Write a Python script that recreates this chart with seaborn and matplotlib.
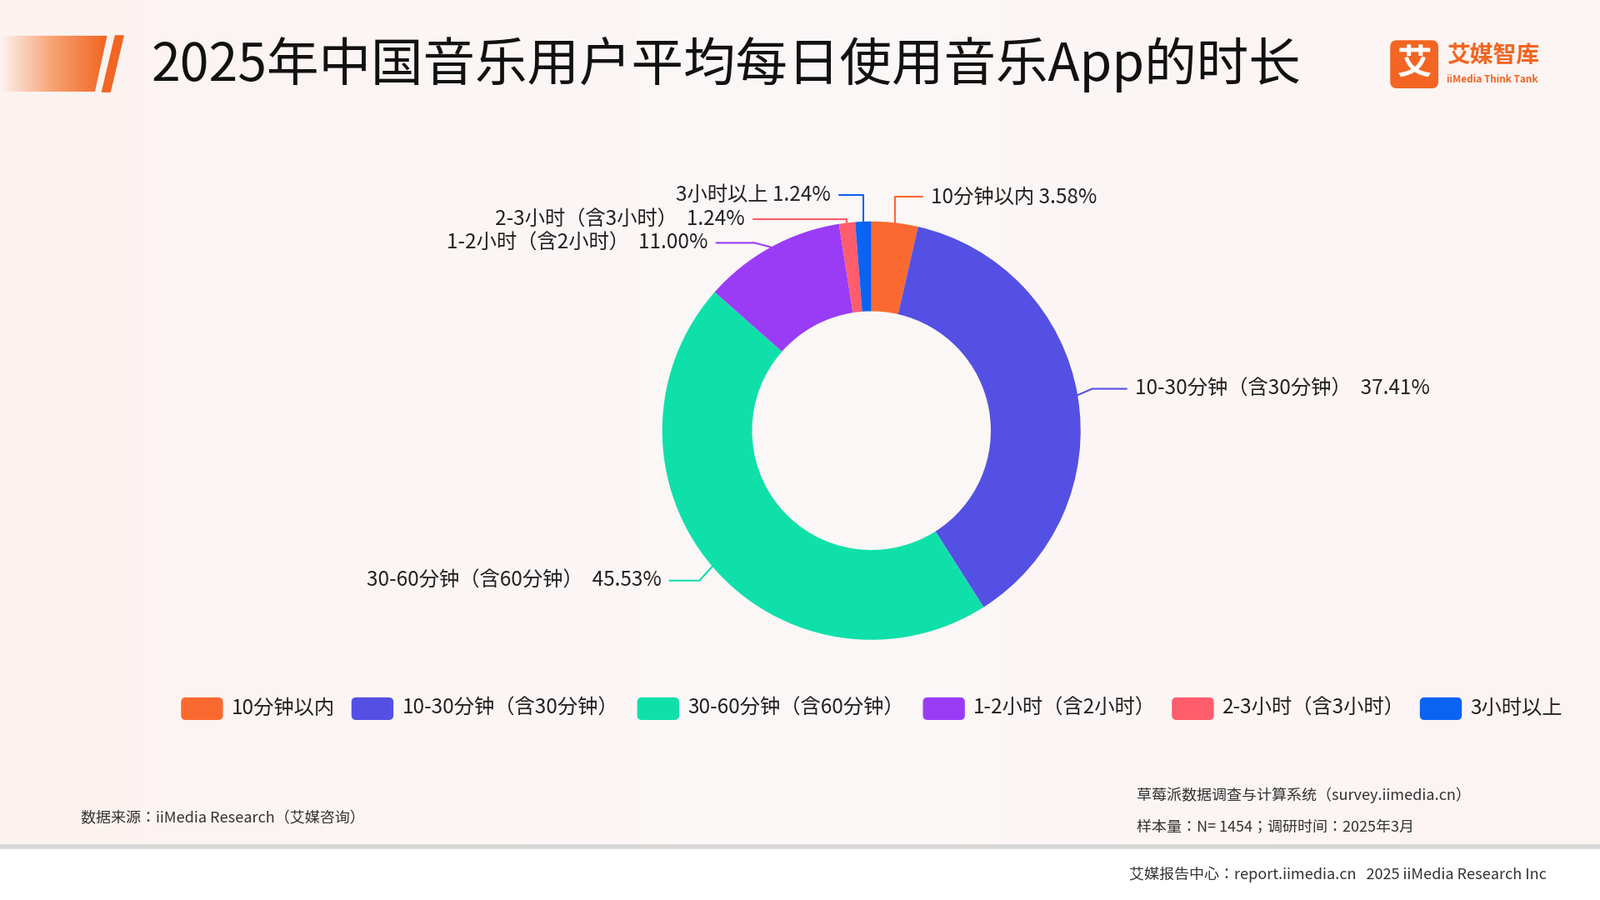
import matplotlib
matplotlib.use("Agg")
import matplotlib.pyplot as plt
import seaborn as sns
import numpy as np
from matplotlib.patches import Polygon, FancyBboxPatch, Rectangle

sns.set_theme(style="white", font="Noto Sans CJK SC")
plt.rcParams["font.family"] = "sans-serif"
plt.rcParams["font.sans-serif"] = ["Noto Sans CJK SC", "Noto Sans CJK JP", "DejaVu Sans"]

categories = ["10分钟以内", "10-30分钟（含30分钟）", "30-60分钟（含60分钟）",
              "1-2小时（含2小时）", "2-3小时（含3小时）", "3小时以上"]
values = [3.58, 37.41, 45.53, 11.00, 1.24, 1.24]
colors = ["#FA6A30", "#5450E4", "#0FE0A9", "#9A3CF6", "#FF5C6C", "#0B63F3"]
title = "2025年中国音乐用户平均每日使用音乐App的时长"

W, H = 1568, 882
fig = plt.figure(figsize=(19.2, 10.8), dpi=100)
ax = fig.add_axes([0, 0, 1, 1])
ax.set_xlim(0, W); ax.set_ylim(0, H); ax.axis("off")

grad = np.linspace(0, 1, 256).reshape(1, -1)
ax.imshow(grad, extent=[0, W, 0, H], cmap=matplotlib.colors.LinearSegmentedColormap.from_list(
    "bg", ["#FDF3F1", "#FBF8F7", "#FDF4F2"]), aspect="auto", zorder=0)
ax.add_patch(Rectangle((0, 0), W, 882 - 830, color="white", zorder=1))
ax.plot([0, W], [H - 830, H - 830], color="#D6D6D6", lw=4, zorder=2)

fade = matplotlib.colors.LinearSegmentedColormap.from_list("o", ["#FDF3F1", "#F7A070", "#F26522"])
g = ax.imshow(grad, extent=[0, 105, H - 90, H - 35], cmap=fade, aspect="auto", zorder=2)
g.set_clip_path(Polygon([(0, H - 90), (93, H - 90), (105, H - 35), (0, H - 35)], transform=ax.transData))
ax.add_patch(Polygon([(100, H - 90), (108, H - 90), (121, H - 35), (113, H - 35)], color="#F26522", zorder=3))
ax.text(148, H - 63, title, fontsize=45, va="center", ha="left", color="#111111", zorder=3)

ax.add_patch(FancyBboxPatch((1363, H - 86), 46, 46, boxstyle="round,pad=0,rounding_size=6",
                            color="#F26522", zorder=3))
ax.text(1386, H - 63, "艾", fontsize=30, color="white", ha="center", va="center", weight="bold", zorder=4)
ax.text(1418, H - 55, "艾媒智库", fontsize=20, color="#F26522", ha="left", va="center", weight="bold", zorder=4)
ax.text(1418, H - 78, "iiMedia Think Tank", fontsize=8.5, color="#F26522", ha="left", va="center", weight="bold", zorder=4)

cx, cy, R = 854, H - 422, 205
wedges, _ = ax.pie(values, colors=colors, startangle=90, counterclock=False,
                   center=(cx, cy), radius=R, wedgeprops=dict(width=88, edgecolor="none"),
                   frame=True)
ax.set_xlim(0, W); ax.set_ylim(0, H); ax.set_aspect("equal"); ax.axis("off")

label_pos = [(912, 193, "left"), (1112, 381, "left"), (648, 569, "right"),
             (694, 238, "right"), (730, 215, "right"), (814, 191, "right")]
for w, cat, v, col, (lx, ly, ha) in zip(wedges, categories, values, colors, label_pos):
    a = np.deg2rad((w.theta1 + w.theta2) / 2)
    px, py = cx + R * np.cos(a), cy + R * np.sin(a)
    ly2 = H - ly
    ex = lx - 8 if ha == "left" else lx + 8
    mx = px + (ex - px) * 0.3 if abs(ly2 - py) > 4 else px
    if cat in ("3小时以上", "10分钟以内"):
        mx = px
    ax.plot([px, mx, ex], [py, ly2, ly2], color=col, lw=1.5, zorder=5)
    txt = f"{cat} {v:.2f}%" if cat in ("10分钟以内", "3小时以上") else f"{cat}  {v:.2f}%"
    ax.text(lx, ly2, txt, fontsize=17.5, ha=ha, va="center", color="#222222", zorder=5)

lx_list = [178, 345, 625, 905, 1149, 1392]
for x, cat, col in zip(lx_list, categories, colors):
    ax.add_patch(FancyBboxPatch((x, H - 705), 40, 21, boxstyle="round,pad=0,rounding_size=4",
                                color=col, zorder=5))
    ax.text(x + 49, H - 694, cat, fontsize=17.5, ha="left", va="center", color="#222222", zorder=5)

ax.text(79, H - 802, "数据来源：iiMedia Research（艾媒咨询）", fontsize=13, color="#333333", va="center")
ax.text(1114, H - 779, "草莓派数据调查与计算系统（survey.iimedia.cn）", fontsize=13, color="#333333", va="center")
ax.text(1114, H - 811, "样本量：N= 1454；调研时间：2025年3月", fontsize=13, color="#333333", va="center")
ax.text(1516, H - 857, "艾媒报告中心：report.iimedia.cn   2025 iiMedia Research Inc", fontsize=13,
        color="#333333", va="center", ha="right")

fig.savefig("out.png", dpi=100)
